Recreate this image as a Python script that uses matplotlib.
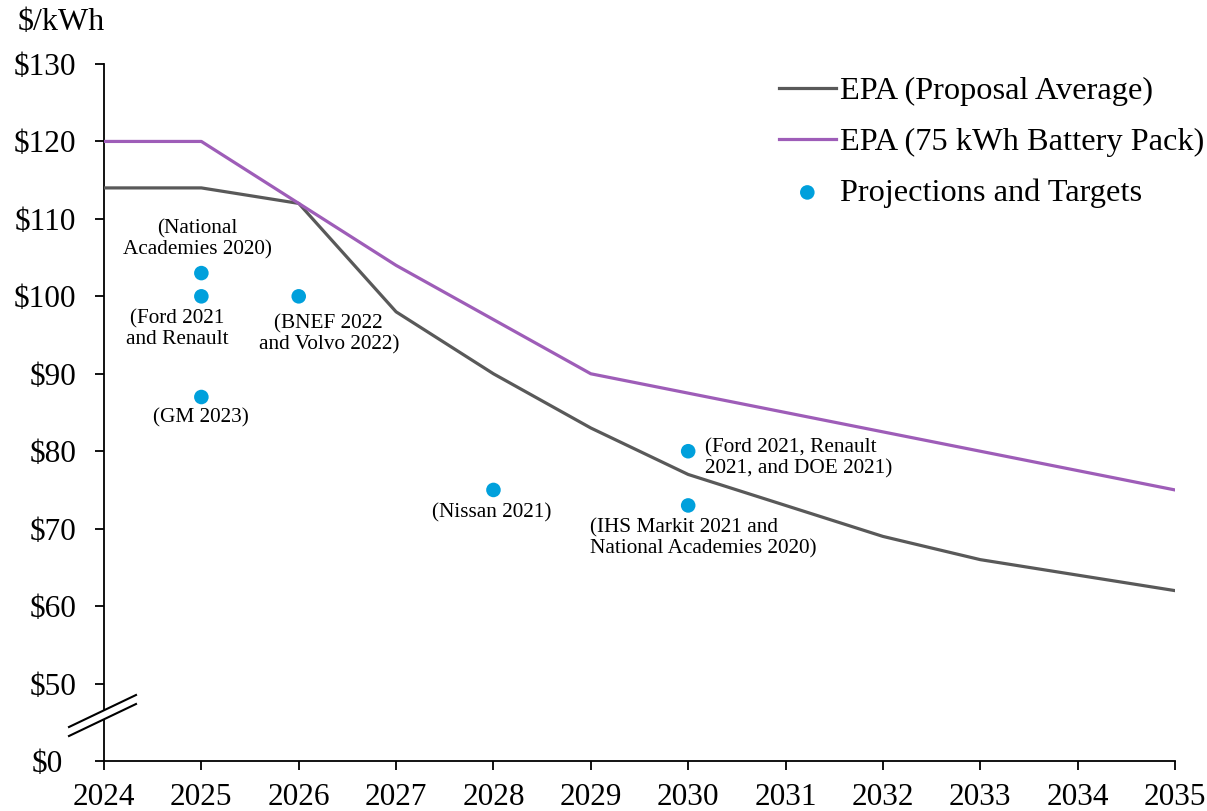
import matplotlib
matplotlib.use("Agg")
import matplotlib.pyplot as plt
from matplotlib.patches import Polygon
from matplotlib.lines import Line2D
from matplotlib.transforms import ScaledTranslation

plt.rcParams['font.family'] = ['Liberation Serif', 'DejaVu Serif']

years = [2024, 2025, 2026, 2027, 2028, 2029, 2030, 2031, 2032, 2033, 2034, 2035]
epa_avg = [114, 114, 112, 98, 90, 83, 77, 73, 69, 66, 64, 62]
epa_75 = [120, 120, 112, 104, 97, 90, 87.5, 85, 82.5, 80, 77.5, 75]

proj_years = [2025, 2025, 2025, 2026, 2028, 2030, 2030]
proj_vals = [103, 100, 87, 100, 75, 80, 73]
proj_labels = ["(National\nAcademies 2020)", "(Ford 2021\nand Renault", "(GM 2023)",
               "(BNEF 2022\nand Volvo 2022)", "(Nissan 2021)",
               "(Ford 2021, Renault\n2021, and DOE 2021)",
               "(IHS Markit 2021 and\nNational Academies 2020)"]
label_offsets = [(-4, 34, 'center'), (-24, -33, 'center'), (0, -21, 'center'),
                 (30, -38, 'center'), (-2, -23, 'center'), (17, -7, 'left'),
                 (-98, -33, 'left')]

ytick_vals = [40, 50, 60, 70, 80, 90, 100, 110, 120, 130]
ytick_labels = ["$0", "$50", "$60", "$70", "$80", "$90", "$100", "$110", "$120", "$130"]

grey = '#595959'
purple = '#9E5DB8'
blue = '#00A0DC'

fig = plt.figure(figsize=(12.07, 8.11), dpi=100)
ax = fig.add_axes([104/1207, 1-761/811, (1175-104)/1207, (761-64)/811])

l1, = ax.plot(years, epa_avg, color=grey, lw=2.3, label='EPA (Proposal Average)', zorder=3)
l2, = ax.plot(years, epa_75, color=purple, lw=2.3, label='EPA (75 kWh Battery Pack)', zorder=3)
sc = ax.scatter(proj_years, proj_vals, s=110, color=blue, zorder=4, label='Projections and Targets',
                edgecolors='none')

for x, y, lab, (dx, dy, ha) in zip(proj_years, proj_vals, proj_labels, label_offsets):
    ax.annotate(lab, (x, y), xytext=(dx, dy), textcoords='offset pixels',
                ha=ha, va='center', fontsize=15.3, linespacing=1.1)

ax.set_xlim(2024, 2035)
ax.set_ylim(40, 130)
ax.set_xticks(years)
ax.set_xticklabels([str(y) for y in years])
ax.set_yticks(ytick_vals)
ax.set_yticklabels(ytick_labels)
ax.tick_params(axis='both', labelsize=22.5, length=6.5, width=1.3, direction='out')
ax.tick_params(axis='y', pad=13.5)
ax.tick_params(axis='x', pad=9)
for s in ['top', 'right']:
    ax.spines[s].set_visible(False)
for s in ['left', 'bottom']:
    ax.spines[s].set_linewidth(1.3)

# "$0" label sits a little left of the others
zero_lab = ax.get_yticklabels()[0]
zero_lab.set_transform(zero_lab.get_transform() + ScaledTranslation(-13/100, 0, fig.dpi_scale_trans))

# axis break marks
tr = ax.transAxes
def ax_from_px(px, py):
    return ((px - 104) / (1175 - 104), (761 - py) / (761 - 64))
p1a, p1b = ax_from_px(69, 727), ax_from_px(136, 695)
p2a, p2b = ax_from_px(69, 736), ax_from_px(136, 704)
ax.add_patch(Polygon([p1a, p1b, p2b, p2a], closed=True, transform=tr, facecolor='white',
                     edgecolor='none', clip_on=False, zorder=5))
for a, b in [(p1a, p1b), (p2a, p2b)]:
    ax.add_line(Line2D([a[0], b[0]], [a[1], b[1]], transform=tr, color='black', lw=1.5,
                       clip_on=False, zorder=6))

fig.text(18/1207, 1-22/811, "$/kWh", fontsize=23, ha='left', va='center')

leg = fig.legend(handles=[l1, l2, sc], loc='upper right', bbox_to_anchor=(1207/1207, 1-73/811),
                 frameon=False, fontsize=23.3, handlelength=1.75, handletextpad=0.12,
                 labelspacing=0.66, borderpad=0, borderaxespad=0.1, scatterpoints=1)

fig.savefig('out.png', dpi=100)
